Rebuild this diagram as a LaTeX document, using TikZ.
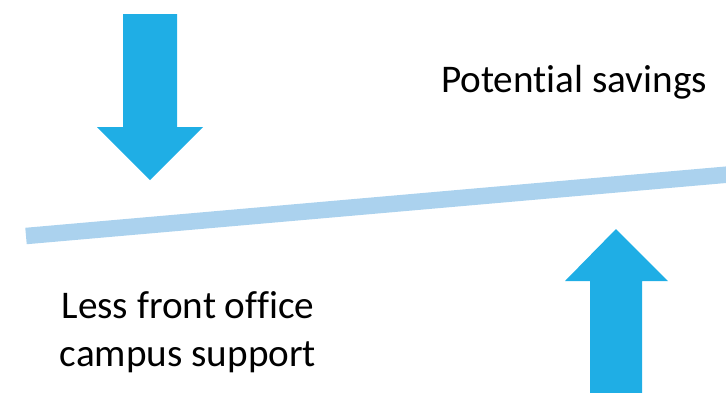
\documentclass[tikz,border=0pt]{standalone}
\usepackage{fontspec}
\setmainfont{Carlito}[Ligatures=NoCommon]
\definecolor{arrowblue}{HTML}{1FAEE5}
\definecolor{beamblue}{HTML}{ABD2EE}
\begin{document}
\begin{tikzpicture}[x=1pt,y=-1pt,font=\fontsize{39.2}{44}\selectfont]
  \useasboundingbox (0,0) rectangle (726,392);
  \clip (0,0) rectangle (726,392);
  \draw[line width=16.5pt, beamblue] (26,236) -- (740,173.5);
  \fill[arrowblue] (123,14) -- (177,14) -- (177,127) -- (203,127) -- (150,180) -- (97,127) -- (123,127) -- cycle;
  \fill[arrowblue] (590,400) -- (642,400) -- (642,281) -- (668,281) -- (616,229) -- (565,281) -- (590,281) -- cycle;

  \node[anchor=base] (savings) at (574,92) {Potential savings};
  \node[anchor=base, align=center] (support) at (188,366) {Less front office\\[4pt]campus support};
\end{tikzpicture}
\end{document}
